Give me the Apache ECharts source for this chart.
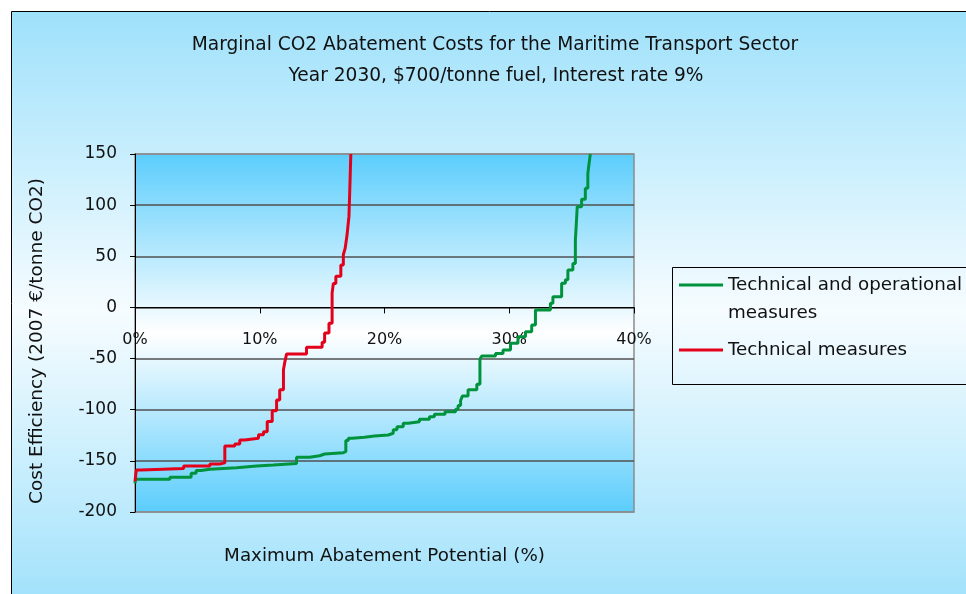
<!DOCTYPE html>
<html>
<head>
<meta charset="utf-8">
<script src="https://cdn.jsdelivr.net/npm/echarts@6/dist/echarts.min.js"></script>
<style>
  html, body { margin: 0; padding: 0; background: #ffffff; }
  #chart { width: 966px; height: 594px; }
</style>
</head>
<body>
<div id="chart"></div>
<script>
// Chart texts
const titleLines = [
  'Marginal CO2 Abatement Costs for the Maritime Transport Sector',
  'Year 2030, $700/tonne fuel, Interest rate 9%'
];
const xAxisTitle = 'Maximum Abatement Potential (%)';
const yAxisTitle = 'Cost Efficiency (2007 €/tonne CO2)';
const seriesNames = ['Technical and operational measures', 'Technical measures'];

// Axis ranges and tick spacing
const xTicks = [0, 10, 20, 30, 40];          // abatement potential, %
const yTicks = [-200, -150, -100, -50, 0, 50, 100, 150]; // €/tonne CO2

// Cumulative abatement potential (%) where each cost level begins, and its cost
const techOpMeasures = [
  [0, -172], [0.05, -168], [2.8, -166], [4.5, -162], [4.9, -159.5], [5.3, -158.3],
  [6.0, -156.7], [8.15, -155], [9.75, -154], [11.1, -152.5], [12.95, -146.5],
  [14.0, -145], [14.8, -143.3], [15.2, -142], [16.7, -141], [16.9, -130],
  [17.1, -128], [17.4, -127], [18.4, -125.7], [19.2, -124.7], [20.3, -123],
  [20.7, -119.5], [21.0, -116.6], [21.5, -113.3], [21.9, -111.7], [22.8, -109.4],
  [23.6, -107], [24.0, -104.5], [24.85, -102], [25.7, -99.5], [25.9, -96],
  [26.1, -91], [26.25, -86.5], [26.7, -80.5], [27.4, -75], [27.65, -50.5],
  [27.8, -47.5], [28.9, -45], [29.5, -41.6], [30.1, -35], [30.7, -28.6],
  [31.3, -23.7], [31.8, -17.2], [32.1, -2.5], [33.3, 4], [33.5, 10.5],
  [34.2, 23.6], [34.5, 27], [34.7, 36.6], [35.1, 43], [35.3, 66], [35.35, 76],
  [35.45, 98.5], [35.8, 105.7], [36.1, 116.5], [36.3, 131], [36.4, 141], [36.5, 150]
];
const techMeasures = [
  [0, -170], [0.1, -159], [0.5, -157.5], [3.9, -155], [6.0, -153], [6.8, -152],
  [7.2, -135.5], [8.0, -133.5], [8.4, -129.5], [8.8, -128], [9.9, -124.5],
  [10.3, -121.5], [10.6, -111.5], [11.0, -101], [11.35, -90.5], [11.6, -80.5],
  [11.9, -61], [12.0, -54], [12.15, -45.5], [13.75, -39], [15.0, -34], [15.2, -25],
  [15.55, -15.5], [15.8, 14], [15.9, 23.5], [16.1, 30.5], [16.5, 41.5], [16.7, 51.5],
  [16.85, 58], [17.0, 71], [17.15, 89], [17.2, 108], [17.3, 150]
];

const FONT = 'DejaVu Sans';
const TEXT = '#111111';

// Plot rectangle
const PLOT = { left: 135, top: 154, width: 499, height: 358 };
const yMin = yTicks[0], yMax = yTicks[yTicks.length - 1];
// the category axis sits on the zero cost line, so lift it from the plot bottom
const zeroLift = PLOT.height * (0 - yMin) / (yMax - yMin);

const chart = echarts.init(document.getElementById('chart'), null, { renderer: 'canvas' });

function vGrad(stops) {
  return {
    type: 'linear', x: 0, y: 0, x2: 0, y2: 1,
    colorStops: stops.map(s => ({ offset: s[0], color: s[1] }))
  };
}

chart.setOption({
  animation: false,
  backgroundColor: '#ffffff',
  textStyle: { fontFamily: FONT, color: TEXT },
  graphic: [
    {
      type: 'rect', z: -10, silent: true,
      shape: { x: 11.5, y: 11.5, width: 1000, height: 600 },
      style: {
        fill: vGrad([[0, '#9ee1fb'], [0.5, '#f6fcff'], [1, '#9ee1fb']]),
        stroke: '#000000', lineWidth: 1
      }
    },
    {
      type: 'text', z: 10, x: 495, y: 45,
      style: { text: titleLines[0], fontFamily: FONT, fontSize: 18.6, fill: TEXT, align: 'center', verticalAlign: 'middle' }
    },
    {
      type: 'text', z: 10, x: 496, y: 76,
      style: { text: titleLines[1], fontFamily: FONT, fontSize: 18.6, fill: TEXT, align: 'center', verticalAlign: 'middle' }
    },
    {
      type: 'rect', z: 5, silent: true,
      shape: { x: 672.5, y: 267.5, width: 400, height: 117 },
      style: { fill: 'rgba(0,0,0,0)', stroke: '#000000', lineWidth: 1 }
    }
  ],
  grid: {
    left: PLOT.left, top: PLOT.top, width: PLOT.width, height: PLOT.height,
    outerBoundsMode: 'none',
    containLabel: false,
    show: true,
    backgroundColor: vGrad([[0, '#5bcdfc'], [0.5, '#ffffff'], [1, '#5bcdfc']]),
    borderColor: '#8c8c8c', borderWidth: 1.5
  },
  legend: {
    orient: 'vertical',
    left: 679, top: 243,
    padding: 0,
    itemWidth: 44, itemHeight: 3, itemGap: 9,
    icon: 'rect',
    textStyle: { fontFamily: FONT, fontSize: 18.3, color: TEXT, lineHeight: 28 },
    data: [seriesNames[0], seriesNames[1]],
    // first entry wraps onto a second line; the leading blank line keeps
    // its first line level with the legend stroke
    formatter: name => name === seriesNames[0] ? ' \nTechnical and operational\nmeasures' : name
  },
  xAxis: {
    type: 'value',
    position: 'bottom',
    offset: -zeroLift,
    min: xTicks[0], max: xTicks[xTicks.length - 1], interval: 10,
    name: xAxisTitle, nameLocation: 'middle', nameGap: 240,
    nameMoveOverlap: false,
    nameTextStyle: { fontFamily: FONT, fontSize: 18.3, color: TEXT },
    axisLine: { onZero: false, lineStyle: { color: '#000000', width: 1 } },
    axisTick: { show: true, length: 6, lineStyle: { color: '#000000' } },
    axisLabel: { formatter: '{value}%', margin: 24, fontFamily: FONT, fontSize: 16, color: TEXT },
    splitLine: { show: false }
  },
  yAxis: {
    type: 'value',
    min: yMin, max: yMax, interval: 50,
    name: yAxisTitle, nameLocation: 'middle', nameGap: 88,
    nameMoveOverlap: false,
    nameTextStyle: { fontFamily: FONT, fontSize: 18.5, color: TEXT, padding: [0, 16, 0, 0] },
    axisLine: { show: true, lineStyle: { color: '#000000', width: 1 } },
    axisTick: { show: true, length: 5, lineStyle: { color: '#000000' } },
    axisLabel: { margin: 18, fontFamily: FONT, fontSize: 17, color: TEXT },
    splitLine: {
      show: true,
      lineStyle: { color: ['#8c8c8c', '#505050', '#505050', '#505050', '#505050', '#505050', '#505050', '#8c8c8c'], width: 1.5 }
    }
  },
  series: [
    {
      name: seriesNames[0], type: 'line', step: 'end',
      data: techOpMeasures, showSymbol: false, symbol: 'none',
      color: '#00933d',
      lineStyle: { color: '#00933d', width: 3 }, z: 3
    },
    {
      name: seriesNames[1], type: 'line', step: 'end',
      data: techMeasures, showSymbol: false, symbol: 'none',
      color: '#e3001b',
      lineStyle: { color: '#e3001b', width: 3 }, z: 4
    }
  ]
});
</script>
</body>
</html>
